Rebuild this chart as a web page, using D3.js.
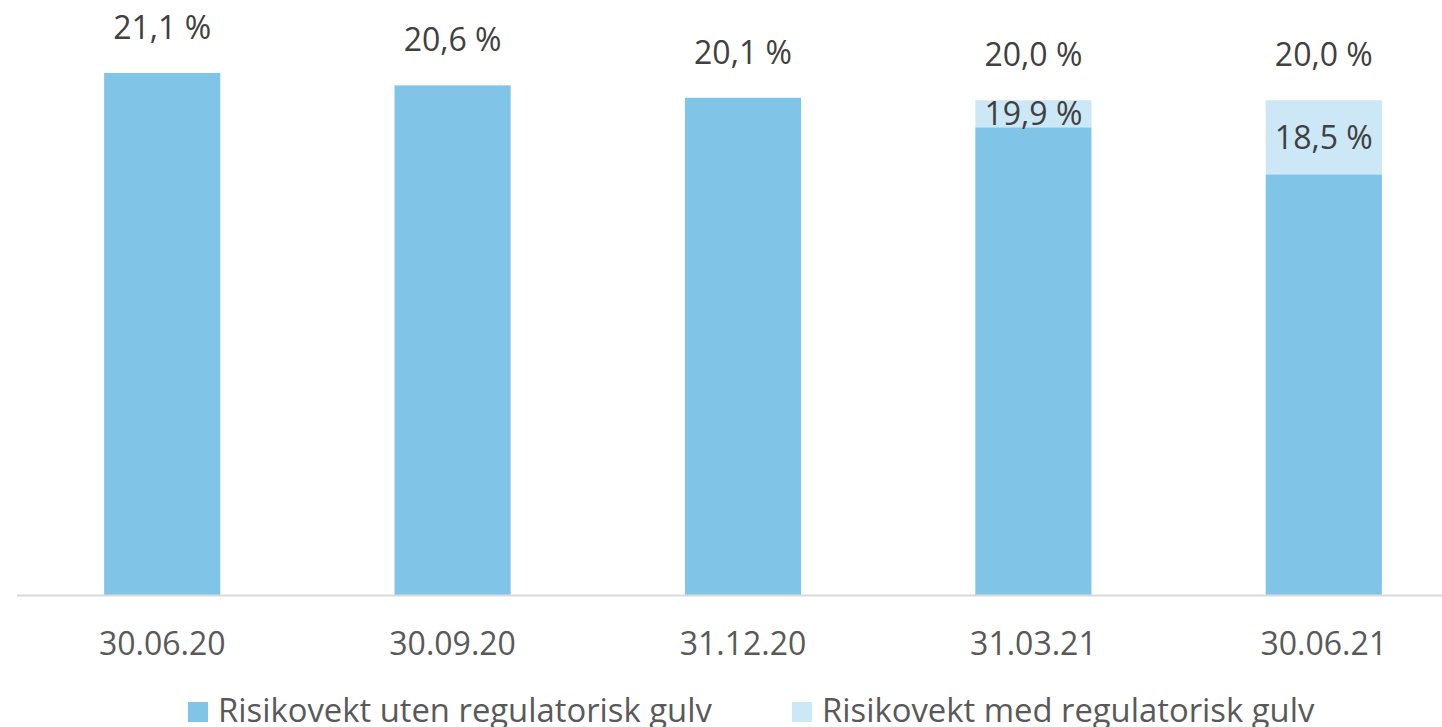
<!DOCTYPE html>
<html>
<head>
<meta charset="utf-8">
<script src="https://cdn.jsdelivr.net/npm/d3@7"></script>
<style>
  html, body { margin: 0; padding: 0; background: #fff; }
  svg { display: block; font-family: "Open Sans", sans-serif; }
</style>
</head>
<body>
<div id="chart"></div>
<script>
// categories (quarter ends)
const dates = ["30.06.20", "30.09.20", "31.12.20", "31.03.21", "30.06.21"]
// bar heights (%)
const utenGulv = [21.1, 20.6, 20.1, 18.9, 17.0]
const medGulv = [null, null, null, 20.0, 20.0]
// printed labels
const topLabels = ["21,1 %", "20,6 %", "20,1 %", "20,0 %", "20,0 %"]
const innerLabels = [null, null, null, "19,9 %", "18,5 %"]
const seriesNames = ["Risikovekt uten regulatorisk gulv", "Risikovekt med regulatorisk gulv"]
const colors = ["#80c5e8", "#cce7f6"]

const divWidth = 1442
const divHeight = 727
const baseY = 595

const svg = d3.select("#chart")
  .append("svg")
  .attr("width", divWidth)
  .attr("height", divHeight)

var x = d3.scaleBand()
  .domain(dates)
  .range([17, 1469])
  .paddingInner(0.6)
  .paddingOuter(0.3)

var y = d3.scaleLinear()
  .domain([0, 21.1])
  .range([baseY, 73])

const rows = dates.map((d, i) => ({
  date: d, uten: utenGulv[i], med: medGulv[i], top: topLabels[i], inner: innerLabels[i]
}))

// light segment (with floor) first, drawn from dark top to floor top
svg.selectAll(".med")
  .data(rows.filter(r => r.med != null))
  .enter()
  .append("rect")
    .attr("class", "med")
    .attr("x", d => x(d.date))
    .attr("y", d => y(d.med))
    .attr("width", x.bandwidth())
    .attr("height", d => y(d.uten) - y(d.med))
    .style("fill", colors[1])

svg.selectAll(".uten")
  .data(rows)
  .enter()
  .append("rect")
    .attr("class", "uten")
    .attr("x", d => x(d.date))
    .attr("y", d => y(d.uten))
    .attr("width", x.bandwidth())
    .attr("height", d => baseY - y(d.uten))
    .style("fill", colors[0])

// x axis
const axis = svg.append("g")
  .attr("transform", "translate(0," + baseY + ")")
  .call(d3.axisBottom(x).tickSize(0).tickPadding(0))
axis.select(".domain").remove()
axis.append("line")
  .attr("x1", 17).attr("x2", divWidth)
  .attr("y1", 0.5).attr("y2", 0.5)
  .style("stroke", "#d9d9d9")
  .style("stroke-width", 2)
axis.selectAll("text")
  .attr("y", 60)
  .attr("dy", 0)
  .style("font-family", "'Open Sans', sans-serif")
  .style("font-size", "32px")
  .style("fill", "#595959")

// labels above bars
svg.selectAll(".topLabel")
  .data(rows)
  .enter()
  .append("text")
    .attr("x", d => x(d.date) + x.bandwidth() / 2)
    .attr("y", d => y(d.med != null ? d.med : d.uten) - 34)
    .attr("text-anchor", "middle")
    .style("font-size", "32px")
    .style("fill", "#404040")
    .text(d => d.top)

// labels inside the floor segment
svg.selectAll(".innerLabel")
  .data(rows.filter(r => r.inner != null))
  .enter()
  .append("text")
    .attr("x", d => x(d.date) + x.bandwidth() / 2)
    .attr("y", d => (y(d.med) + y(d.uten)) / 2 + 11.5)
    .attr("text-anchor", "middle")
    .style("font-size", "32px")
    .style("fill", "#404040")
    .text(d => d.inner)

// legend
const legendX = [188, 792]
const legend = svg.selectAll(".legend")
  .data(seriesNames)
  .enter()
  .append("g")
  .attr("transform", (d, i) => "translate(" + legendX[i] + ",0)")
legend.append("rect")
  .attr("x", 0).attr("y", 702)
  .attr("width", 20).attr("height", 20)
  .style("fill", (d, i) => colors[i])
legend.append("text")
  .attr("x", 30).attr("y", 722)
  .style("font-size", "32.8px")
  .style("fill", "#595959")
  .text(d => d)
</script>
</body>
</html>
